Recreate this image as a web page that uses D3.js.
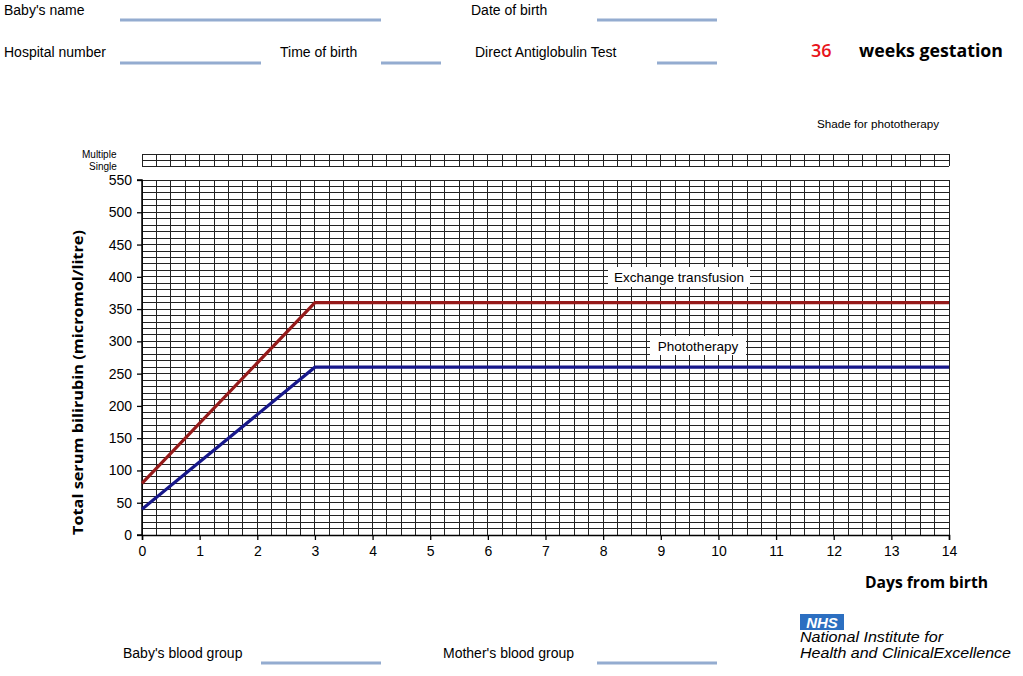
<!DOCTYPE html>
<html><head><meta charset="utf-8">
<script src="https://cdn.jsdelivr.net/npm/d3@7"></script>
<style>
html,body{margin:0;padding:0;background:#fff;}
svg{display:block;font-family:"Liberation Sans",Arial,sans-serif;}
text{fill:#000;}
</style></head>
<body>
<svg id="c" width="1023" height="676"></svg>
<script>
// ---- data ----
const days = [0, 3, 14];
const exchangeValues = [80, 360, 360];
const phototherapyValues = [40, 260, 260];
const xTickValues = [0,1,2,3,4,5,6,7,8,9,10,11,12,13,14];
const yTickValues = [0,50,100,150,200,250,300,350,400,450,500,550];
const seriesNames = ["Exchange transfusion", "Phototherapy"];
const gestationWeeks = 36;

const svg = d3.select("#c");
const x = d3.scaleLinear().domain([0, 14]).range([142, 949]);
const y = d3.scaleLinear().domain([0, 550]).range([535, 180]);
const ARIAL = "'Liberation Sans',Arial,sans-serif";
const CAL = "'Open Sans','Noto Sans',sans-serif";

// ---- header form ----
const blue = "#94acd0";
function field(label, lx, ly, x1, x2, lineY) {
  svg.append("text").attr("x", lx).attr("y", ly).style("font-size", "14px").style("font-family", ARIAL).text(label);
  svg.append("line").attr("x1", x1).attr("x2", x2).attr("y1", lineY).attr("y2", lineY)
    .attr("stroke", blue).attr("stroke-width", 3);
}
field("Baby's name", 4, 15, 120, 381, 20);
field("Date of birth", 471, 15, 597, 717, 20);
field("Hospital number", 4, 57, 120, 261, 63);
field("Time of birth", 280, 57, 381, 441, 63);
field("Direct Antiglobulin Test", 475, 57, 657, 717, 63);
field("Baby's blood group", 123, 658, 261, 381, 663);
field("Mother's blood group", 443, 658, 597, 717, 663);

svg.append("text").attr("x", 811).attr("y", 57)
  .style("font-family", CAL).style("font-size", "18px").style("font-weight", 600)
  .style("fill", "#e8141c").text(gestationWeeks);
svg.append("text").attr("x", 859).attr("y", 57)
  .style("font-family", CAL).style("font-size", "18px").style("font-weight", 700)
  .attr("textLength", 144).attr("lengthAdjust", "spacingAndGlyphs")
  .text("weeks gestation");

svg.append("text").attr("x", 817).attr("y", 128).style("font-size", "11.7px").style("font-family", ARIAL).text("Shade for phototherapy");

// ---- phototherapy strip ----
const quarter = d3.range(0, 14.001, 0.25);
const stripTop = 154, stripMid = 160, stripBot = 166;
const strip = svg.append("g").attr("shape-rendering", "crispEdges").attr("stroke", "#222");
[stripTop, stripMid, stripBot].forEach(yy => {
  strip.append("line").attr("x1", x(0)).attr("x2", x(14)).attr("y1", yy).attr("y2", yy);
});
strip.selectAll("line.v").data(quarter).join("line").attr("class", "v")
  .attr("x1", d => x(d)).attr("x2", d => x(d)).attr("y1", stripTop).attr("y2", stripBot);
svg.append("text").attr("x", 82).attr("y", 158).style("font-size", "10px").style("font-family", ARIAL).text("Multiple");
svg.append("text").attr("x", 89).attr("y", 170).style("font-size", "10px").style("font-family", ARIAL).text("Single");

// ---- grid ----
const grid = svg.append("g").attr("shape-rendering", "crispEdges").attr("stroke", "#222").attr("stroke-width", 1);
const tens = d3.range(0, 550.001, 10);
grid.selectAll("line.h").data(tens).join("line").attr("class", "h")
  .attr("x1", x(0)).attr("x2", x(14)).attr("y1", d => y(d)).attr("y2", d => y(d));
grid.selectAll("line.v").data(quarter).join("line").attr("class", "v")
  .attr("x1", d => x(d)).attr("x2", d => x(d)).attr("y1", y(550)).attr("y2", y(0));

// ---- axes ----
const xAxis = d3.axisBottom(x).tickValues(xTickValues).tickSize(5).tickPadding(6).tickFormat(d3.format("d"));
const yAxis = d3.axisLeft(y).tickValues(yTickValues).tickSize(5).tickPadding(5).tickFormat(d3.format("d"));
const gx = svg.append("g").attr("transform", `translate(0,${y(0)})`).call(xAxis);
const gy = svg.append("g").attr("transform", `translate(${x(0)},0)`).call(yAxis);
[gx, gy].forEach(g => {
  g.select(".domain").attr("stroke", "#000").attr("stroke-width", 1.5);
  g.selectAll(".tick line").attr("stroke", "#000").attr("stroke-width", 1.3);
  g.selectAll(".tick text").style("font-size", "14px").style("font-family", ARIAL).style("fill", "#000");
});
gy.select(".domain").attr("d", `M-5,${y(550)}H0V${y(0)}H-5`);

svg.append("text").attr("transform", `translate(83,${(230 + 535) / 2}) rotate(-90)`)
  .attr("text-anchor", "middle")
  .style("font-family", CAL).style("font-size", "15px").style("font-weight", 700)
  .attr("textLength", 305).attr("lengthAdjust", "spacingAndGlyphs")
  .text("Total serum bilirubin  (micromol/litre)");
svg.append("text").attr("x", 988).attr("y", 588).attr("text-anchor", "end")
  .style("font-family", CAL).style("font-size", "16px").style("font-weight", 700)
  .attr("textLength", 123).attr("lengthAdjust", "spacingAndGlyphs")
  .text("Days from birth");

// ---- threshold lines ----
const line = d3.line().x(d => x(d[0])).y(d => y(d[1]));
const series = [
  {name: seriesNames[0], values: exchangeValues, color: "#951a1a"},
  {name: seriesNames[1], values: phototherapyValues, color: "#17178a"}
];
svg.selectAll("path.series").data(series).join("path").attr("class", "series")
  .attr("d", s => line(days.map((d, i) => [d, s.values[i]])))
  .attr("fill", "none").attr("stroke", s => s.color).attr("stroke-width", 3.2)
  .attr("stroke-linejoin", "miter");

// ---- labels on lines ----
const labels = [
  {text: seriesNames[0], cx: 679, cy: 277, w: 142, h: 20},
  {text: seriesNames[1], cx: 698, cy: 345.5, w: 96, h: 19}
];
labels.forEach(l => {
  svg.append("rect").attr("x", l.cx - l.w / 2).attr("y", l.cy - l.h / 2).attr("width", l.w).attr("height", l.h).attr("fill", "#fff");
  svg.append("text").attr("x", l.cx).attr("y", l.cy + 5).attr("text-anchor", "middle")
    .style("font-size", "13.5px").style("font-family", ARIAL).text(l.text);
});

// ---- NHS / NICE logo ----
svg.append("rect").attr("x", 800).attr("y", 614).attr("width", 44).attr("height", 16).attr("fill", "#2c6fc1");
svg.append("text").attr("x", 822).attr("y", 628).attr("text-anchor", "middle")
  .style("font-size", "15px").style("font-weight", 700).style("font-style", "italic").style("font-family", ARIAL)
  .style("fill", "#fff").text("NHS");
svg.append("text").attr("x", 800).attr("y", 642).style("font-size", "14px").style("font-style", "italic").style("font-family", ARIAL)
  .attr("textLength", 143).attr("lengthAdjust", "spacingAndGlyphs").text("National Institute for");
svg.append("text").attr("x", 800).attr("y", 658).style("font-size", "14px").style("font-style", "italic").style("font-family", ARIAL)
  .attr("textLength", 211).attr("lengthAdjust", "spacingAndGlyphs").text("Health and ClinicalExcellence");
</script>
</body></html>
